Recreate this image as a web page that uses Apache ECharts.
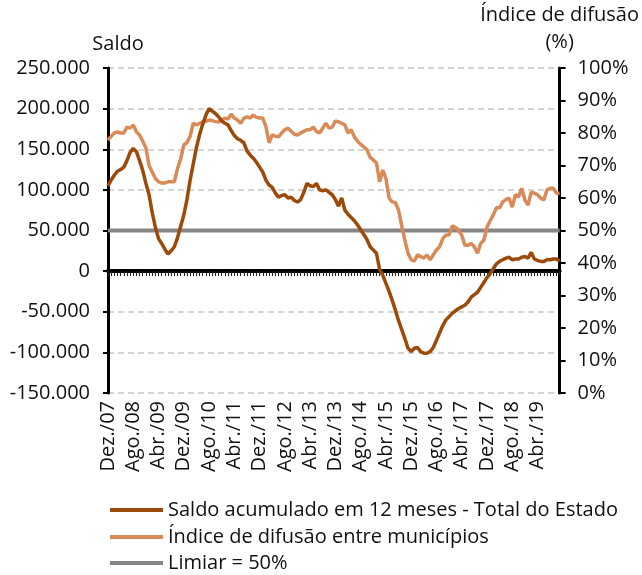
<!DOCTYPE html>
<html>
<head>
    <meta charset="utf-8">
    <title>Saldo e índice de difusão</title>
    <script src="https://cdn.jsdelivr.net/npm/echarts@6/dist/echarts.min.js"></script>
    <style>
        html, body { margin: 0; padding: 0; background: #fff; }
        #main { width: 642px; height: 575px; }
    </style>
</head>
<body>
<div id="main"></div>
<script type="text/javascript">
    // meses de Dez./07 a Nov./19
    var mesNomes = ['Jan.', 'Fev.', 'Mar.', 'Abr.', 'Mai.', 'Jun.', 'Jul.', 'Ago.', 'Set.', 'Out.', 'Nov.', 'Dez.'];
    var meses = ['Dez./07'];
    for (var a = 8; a <= 19; a++) {
        for (var m = 0; m < 12; m++) {
            if (a === 19 && m > 10) break;
            meses.push(mesNomes[m] + '/' + (a < 10 ? '0' + a : a));
        }
    }

    // saldo acumulado em 12 meses (empregos)
    var saldo = [
        105000, 112000, 118000, 123000, 125000, 128000, 136000, 146000, 151000, 147000, 136000, 124000,
        108000, 94000, 72000, 54000, 40000, 34000, 27000, 21000, 25000, 30000, 41000, 55000,
        69000, 88000, 112000, 132000, 152000, 168000, 181000, 192000, 200000, 197000, 194000, 190000,
        185000, 182000, 180000, 173000, 167000, 163000, 161000, 158000, 148000, 143000, 139000, 134000,
        128000, 122000, 112000, 106000, 103000, 96000, 91000, 93000, 94000, 90000, 91000, 87000,
        85000, 88000, 97000, 108000, 105000, 104000, 108000, 100000, 99000, 100000, 97000, 94000,
        88000, 80000, 90000, 75000, 70000, 66000, 62000, 57000, 51000, 45000, 39000, 30000,
        26000, 22000, 2000, -5000, -15000, -25000, -36000, -48000, -61000, -72000, -83000, -95000,
        -99000, -95000, -94000, -99000, -101000, -101000, -99000, -94000, -85000, -76000, -67000, -60000,
        -56000, -52000, -49000, -46000, -44000, -42000, -38000, -32000, -29000, -26000, -20000, -14000,
        -8000, -3000, 3000, 9000, 12000, 14000, 16000, 17000, 14000, 15000, 15000, 17000,
        18000, 16000, 23000, 15000, 13000, 12000, 12000, 14000, 14000, 15000, 15000, 12000
    ];

    // índice de difusão entre municípios (%)
    var indice = [
        77.8, 79, 80, 80.3, 80, 80, 81.8, 81.5, 82.5, 80.3, 79.4, 77.5,
        75.4, 70, 68, 66, 65, 64.6, 64.6, 65, 65, 65, 69, 72,
        76.3, 77, 79, 83, 82.5, 83, 83.4, 83.6, 84, 83.8, 83.5, 83.4,
        84, 84.6, 84.3, 85.8, 84.6, 84, 83, 84.5, 85, 84.6, 85.5, 84.8,
        84.6, 84.6, 82, 77, 79.4, 79, 78.8, 80, 81, 81.5, 80.5, 79.6,
        79.4, 80, 80.5, 81, 81, 81.8, 80.5, 80, 81.5, 83, 81.5, 81.8,
        83.7, 83.4, 83, 82.5, 80, 81, 78.8, 77.5, 76.5, 75.7, 74.8, 72.5,
        71.7, 70.8, 65, 68.6, 66, 60, 58.8, 58.6, 56.3, 51.5, 47, 43,
        41, 40.6, 42.5, 42, 41.5, 42.5, 41, 42.5, 44, 45, 47.5, 48.6,
        48.6, 51.4, 51, 50, 48.6, 45.5, 45.5, 46, 45, 43, 46, 47,
        51, 53, 54.8, 57, 57, 58.8, 59.5, 60, 57.2, 61, 60.3, 63,
        59.4, 57.8, 61.8, 61.5, 61, 60, 59.4, 62.5, 63, 63, 61.5, 61.5
    ];

    var limiar = 50;
    var limiarSerie = meses.map(function () { return limiar; });

    var nomes = ['Saldo acumulado em 12 meses - Total do Estado', 'Índice de difusão entre municípios', 'Limiar = 50%'];
    var corSaldo = '#9C4A0A';
    var corIndice = '#D98A56';
    var corLimiar = '#868686';
    var fonte = '"Open Sans", "Noto Sans", sans-serif';

    function fmtMilhar(v) {
        var s = Math.abs(v).toString().replace(/\B(?=(\d{3})+(?!\d))/g, '.');
        return (v < 0 ? '-' : '') + s;
    }

    // uma legenda por linha, para controlar o espaçamento
    function legenda(nome, topo) {
        return {
            orient: 'vertical',
            left: 110,
            top: topo,
            padding: 0,
            itemWidth: 53,
            itemHeight: 4,
            icon: 'rect',
            textStyle: {fontSize: 20, fontFamily: fonte, color: '#111'},
            data: [nome]
        };
    }

    var chart = echarts.init(document.getElementById('main'), null, {renderer: 'canvas'});

    var option = {
        animation: false,
        textStyle: {fontFamily: fonte, color: '#000'},
        grid: {left: 108, right: 81, top: 68, bottom: 182},
        legend: [legenda(nomes[0], 500), legenda(nomes[1], 527), legenda(nomes[2], 553)],
        xAxis: [{
            type: 'category',
            data: meses,
            boundaryGap: false,
            position: 'bottom',
            axisLine: {show: false},
            axisTick: {show: false},
            axisLabel: {
                interval: 7,
                rotate: 90,
                fontSize: 20,
                color: '#111',
                margin: 8
            }
        }, {
            type: 'category',
            data: meses,
            boundaryGap: false,
            position: 'bottom',
            axisLine: {show: true, onZero: true, onZeroAxisIndex: 0, lineStyle: {color: '#000', width: 4}},
            axisTick: {show: true, interval: 0, length: 5, lineStyle: {color: '#222', width: 1}},
            axisLabel: {show: false},
            splitLine: {show: false}
        }],
        yAxis: [{
            type: 'value',
            name: 'Saldo',
            nameGap: 14,
            nameTextStyle: {fontSize: 20, color: '#111', align: 'center', padding: [0, 0, 0, 20]},
            min: -150000,
            max: 250000,
            interval: 50000,
            axisLine: {show: true, onZero: false, lineStyle: {color: '#000', width: 3}},
            axisTick: {show: true, length: 5, lineStyle: {color: '#000', width: 2}},
            axisLabel: {fontSize: 20, color: '#111', margin: 18, formatter: fmtMilhar},
            splitLine: {show: true, lineStyle: {color: '#c8c8c8', type: [6, 4], width: 1.5}}
        }, {
            type: 'value',
            name: 'Índice de difusão\n(%)',
            nameGap: 12,
            nameTextStyle: {fontSize: 20, color: '#111', align: 'center', lineHeight: 27},
            min: 0,
            max: 100,
            interval: 10,
            axisLine: {show: true, onZero: false, lineStyle: {color: '#000', width: 3}},
            axisTick: {show: true, length: 6, lineStyle: {color: '#000', width: 2}},
            axisLabel: {fontSize: 20, color: '#111', margin: 18, formatter: '{value}%'},
            splitLine: {show: false}
        }],
        series: [{
            name: nomes[2],
            type: 'line',
            yAxisIndex: 1,
            data: limiarSerie,
            symbol: 'none',
            lineStyle: {color: corLimiar, width: 4},
            itemStyle: {color: corLimiar},
            z: 2
        }, {
            name: nomes[1],
            type: 'line',
            yAxisIndex: 1,
            data: indice,
            symbol: 'none',
            lineStyle: {color: corIndice, width: 3.5},
            itemStyle: {color: corIndice},
            z: 3
        }, {
            name: nomes[0],
            type: 'line',
            yAxisIndex: 0,
            data: saldo,
            symbol: 'none',
            lineStyle: {color: corSaldo, width: 3.5},
            itemStyle: {color: corSaldo},
            z: 4
        }]
    };

    chart.setOption(option);
</script>
</body>
</html>
